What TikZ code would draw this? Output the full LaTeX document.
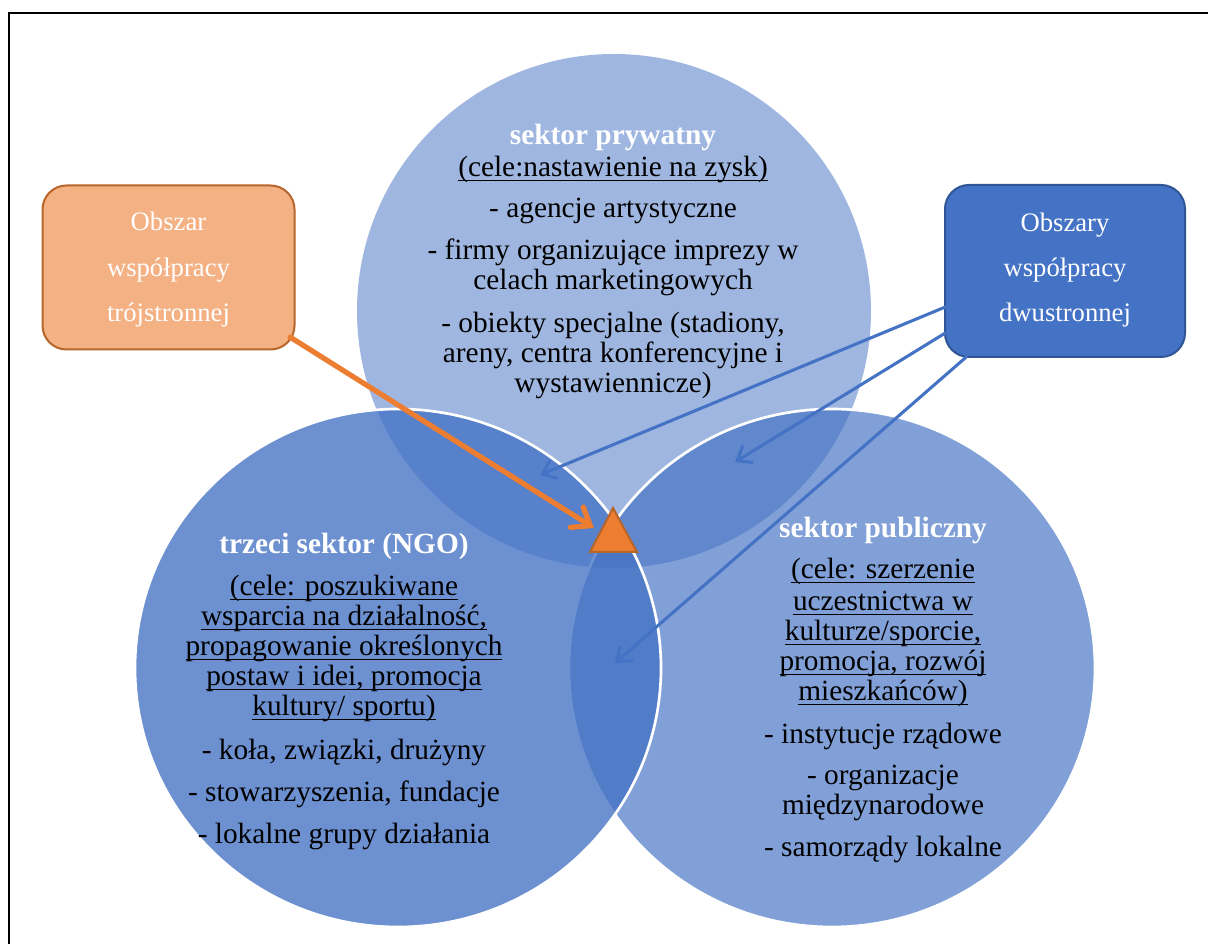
\documentclass[tikz,border=0pt]{standalone}
\usepackage{fontspec}
\setmainfont{Liberation Serif}
\usetikzlibrary{arrows.meta}
\definecolor{accblue}{HTML}{4472C4}
\definecolor{darkblue}{HTML}{2F5597}
\definecolor{accorange}{HTML}{ED7D31}
\definecolor{lightorange}{HTML}{F4B183}
\definecolor{darkorange}{HTML}{B8652A}
\newcommand\myul[1]{\leavevmode\setbox0\hbox{#1}\rlap{\vrule height -2.2pt depth 3.2pt width \wd0}\box0}
\tikzset{
  ctext/.style={anchor=base, inner sep=0pt, text=black, font=\fontsize{22}{24}\selectfont},
  chead/.style={anchor=base, inner sep=0pt, text=white, font=\fontsize{22}{24}\selectfont\bfseries},
  btext/.style={anchor=base, inner sep=0pt, text=white, font=\fontsize{20}{22}\selectfont},
  vennring/.style={draw=white, line width=2pt, fill=accblue},
  obox/.style={draw=darkorange, fill=lightorange, line width=1.5pt, rounded corners=18pt, minimum width=189pt, minimum height=123pt, inner sep=0pt},
  bbox/.style={draw=darkblue, fill=accblue, line width=1.5pt, rounded corners=18pt, minimum width=180pt, minimum height=129pt, inner sep=0pt},
  oarrow/.style={draw=accorange, line width=3.9pt, line cap=round, -{Straight Barb[length=12pt, width=18pt, line cap=round]}},
  barrow/.style={draw=accblue, line width=2.3pt, line cap=round, -{Straight Barb[length=9pt, width=14pt, line cap=round]}},
}
\begin{document}
\begin{tikzpicture}[x=0.75pt, y=-0.75pt]
\useasboundingbox (0,0) rectangle (1208,944);
\fill[white] (0,0) rectangle (1208,944);
% frame
\draw[line width=1.1pt, black] (9,950) -- (9,13) -- (1215,13);
% circles
\fill[accblue, fill opacity=0.51] (614,311) circle[radius=257];
\draw[vennring, fill opacity=0.67] (832,668) ellipse[x radius=263, y radius=259];
\draw[vennring, fill opacity=0.78] (398,668) ellipse[x radius=263, y radius=259];
% top circle text
\node[chead] (p0) at (613,145) {sektor prywatny};
\node[ctext] (p1) at (613,177) {\myul{(cele:nastawienie na zysk)}};
\node[ctext] (p2) at (613,217.5) {- agencje artystyczne};
\node[ctext] (p3) at (613,260) {- firmy organizujące imprezy w};
\node[ctext] (p4) at (613,290) {celach marketingowych};
\node[ctext] (p5) at (613,333) {- obiekty specjalne (stadiony,};
\node[ctext] (p6) at (613,363) {areny, centra konferencyjne i};
\node[ctext] (p7) at (613,392.5) {wystawiennicze)};
% left circle text
\node[chead] (n0) at (344,553.5) {trzeci sektor (NGO)};
\node[ctext] (n1) at (344,596) {\myul{(cele: poszukiwane}};
\node[ctext] (n2) at (344,626) {\myul{wsparcia na działalność,}};
\node[ctext] (n3) at (344,656) {\myul{propagowanie określonych}};
\node[ctext] (n4) at (344,686) {\myul{postaw i idei, promocja}};
\node[ctext] (n5) at (344,716) {\myul{kultury/ sportu)}};
\node[ctext] (n6) at (344,759.5) {- koła, związki, drużyny};
\node[ctext] (n7) at (344,801.5) {- stowarzyszenia, fundacje};
\node[ctext] (n8) at (344,843.5) {- lokalne grupy działania};
% right circle text
\node[chead] (s0) at (883,538) {sektor publiczny};
\node[ctext] (s1) at (883,579) {\myul{(cele: szerzenie}};
\node[ctext] (s2) at (883,611) {\myul{uczestnictwa w}};
\node[ctext] (s3) at (883,641) {\myul{kulturze/sporcie,}};
\node[ctext] (s4) at (883,671) {\myul{promocja, rozwój}};
\node[ctext] (s5) at (883,701) {\myul{mieszkańców)}};
\node[ctext] (s6) at (883,743.5) {- instytucje rządowe};
\node[ctext] (s7) at (883,784.5) {- organizacje};
\node[ctext] (s8) at (883,814.5) {międzynarodowe};
\node[ctext] (s9) at (883,857) {- samorządy lokalne};
% boxes
\node[obox] (orange) at (168.5,267.5) {};
\node[bbox] (blue) at (1065,271) {};
\node[btext] (o1) at (168.5,231) {Obszar};
\node[btext] (o2) at (168.5,277) {współpracy};
\node[btext] (o3) at (168.5,322) {trójstronnej};
\node[btext] (b1) at (1065,232) {Obszary};
\node[btext] (b2) at (1065,277) {współpracy};
\node[btext] (b3) at (1065,322) {dwustronnej};
% arrow end points
\coordinate (e0) at (594,528);
\coordinate (e1) at (540,475);
\coordinate (e2) at (735,462);
\coordinate (e3) at (615,663);
% arrows
\draw[oarrow] ([xshift=-4pt, yshift=10pt]orange.south east) -- (e0);
\draw[barrow] ([xshift=1pt, yshift=-27pt]blue.west) -- (e1);
\draw[barrow] ([xshift=1pt, yshift=-46.5pt]blue.west) -- (e2);
\draw[barrow] ([xshift=17pt, yshift=1pt]blue.south west) -- (e3);
% triangle
\draw[fill=accorange, draw=darkorange, line width=1.5pt, line join=miter] (613,508) -- (590,552) -- (637,552) -- cycle;
\end{tikzpicture}
\end{document}
